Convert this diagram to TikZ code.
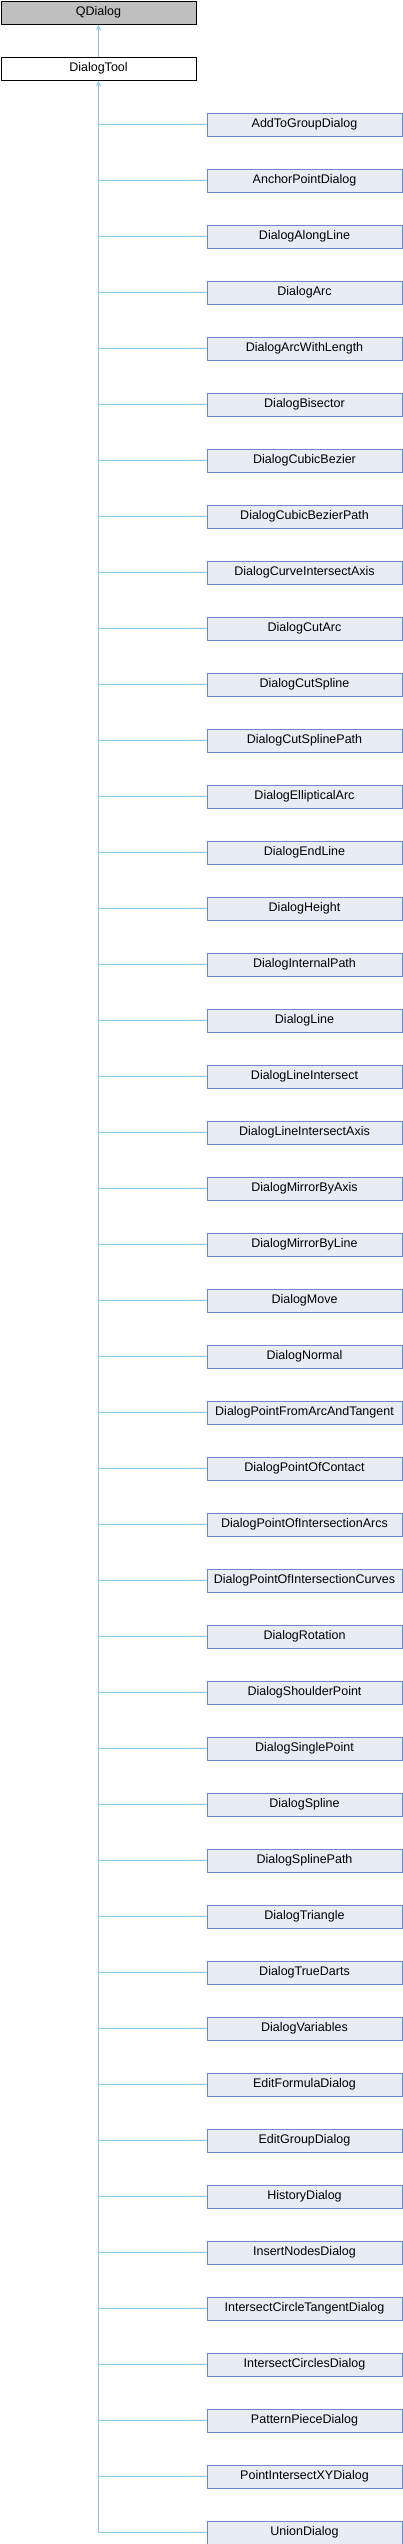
\documentclass[tikz,border=0pt]{standalone}
\usepackage{fontspec}
\setmainfont{Liberation Sans}
\usetikzlibrary{arrows.meta}
\definecolor{edgeblue}{RGB}{140,200,235}
\definecolor{boxfill}{RGB}{232,236,245}
\definecolor{boxline}{RGB}{110,135,200}
\definecolor{basegray}{RGB}{191,191,191}

\begin{document}
\begin{tikzpicture}[x=1pt,y=-1pt,
  cls/.style={draw,line width=1pt,minimum width=195pt,minimum height=23pt,
    inner sep=0pt,anchor=north west,font=\fontsize{12.5}{15}\selectfont},
  sub/.style={cls,draw=boxline,fill=boxfill},
  edge/.style={draw=edgeblue,line width=1pt},
  tip/.style={{Stealth[length=6pt,width=5pt]}-}]
  \useasboundingbox (0,0) rectangle (402,2544);
  \node[cls,fill=basegray] (qdialog) at (0.5,0.5) {QDialog};
  \node[cls,fill=white] (tool) at (0.5,56.5) {DialogTool};
  \draw[edge,tip] (qdialog.south) -- (tool.north);
  \foreach \name [count=\i] in {AddToGroupDialog,AnchorPointDialog,DialogAlongLine,
    DialogArc,DialogArcWithLength,DialogBisector,DialogCubicBezier,
    DialogCubicBezierPath,DialogCurveIntersectAxis,DialogCutArc,DialogCutSpline,
    DialogCutSplinePath,DialogEllipticalArc,DialogEndLine,DialogHeight,
    DialogInternalPath,DialogLine,DialogLineIntersect,DialogLineIntersectAxis,
    DialogMirrorByAxis,DialogMirrorByLine,DialogMove,DialogNormal,
    DialogPointFromArcAndTangent,DialogPointOfContact,
    DialogPointOfIntersectionArcs,DialogPointOfIntersectionCurves,
    DialogRotation,DialogShoulderPoint,DialogSinglePoint,DialogSpline,
    DialogSplinePath,DialogTriangle,DialogTrueDarts,DialogVariables,
    EditFormulaDialog,EditGroupDialog,HistoryDialog,InsertNodesDialog,
    IntersectCircleTangentDialog,IntersectCirclesDialog,PatternPieceDialog,
    PointIntersectXYDialog,UnionDialog}
  {
    \node[sub] (c\i) at (206.5,{112.5+56*(\i-1)}) {\name};
    \draw[edge] (c\i.west) -- (c\i.west -| tool.south);
  }
  \draw[edge,tip] (tool.south) -- (tool.south |- c44.west);
\end{tikzpicture}
\end{document}
